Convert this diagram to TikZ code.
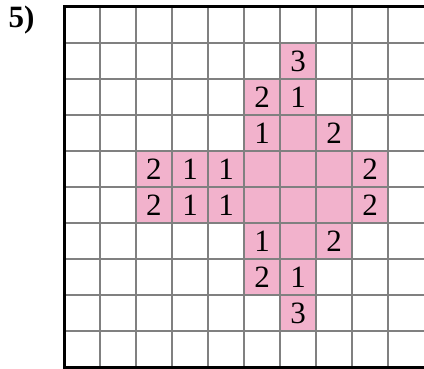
\documentclass[tikz,border=0pt]{standalone}
\usepackage{fontspec}
\setmainfont{Liberation Serif}
\definecolor{cellpink}{RGB}{242,178,204}
\definecolor{gridgray}{RGB}{128,128,128}

\begin{document}
\begin{tikzpicture}[
  font=\fontsize{31}{31}\selectfont,
  gridline/.style={draw=gridgray, line width=1.5pt},
  frame/.style={draw=black, line width=3pt, line join=miter},
  pinkcell/.style={fill=cellpink},
  num/.style={inner sep=0pt, anchor=center}
]
\useasboundingbox (0,0) rectangle (424pt,-369pt);
\node[anchor=base west, font=\fontsize{31}{31}\selectfont\bfseries] (label) at (5pt,-28pt) {5)};

\begin{scope}[shift={(64pt,-7pt)}, x=36pt, y=-36pt]
  % shaded cells
  \foreach \c/\r in {6/1, 5/2, 6/2, 5/3, 6/3, 7/3,
                     2/4, 3/4, 4/4, 5/4, 6/4, 7/4, 8/4,
                     2/5, 3/5, 4/5, 5/5, 6/5, 7/5, 8/5,
                     5/6, 6/6, 7/6, 5/7, 6/7, 6/8}
    \fill[pinkcell] (\c,\r) rectangle ++(1,1);
  % grid
  \foreach \i in {1,...,9} {
    \draw[gridline] (\i,0) -- (\i,10);
    \draw[gridline] (0,\i) -- (10,\i);
  }
  % frame
  \draw[frame] (10,0) -- (0,0) -- (0,10) -- (10,10);
  % numbers
  \foreach \c/\r/\v in {6/1/3, 5/2/2, 6/2/1, 5/3/1, 7/3/2,
                        2/4/2, 3/4/1, 4/4/1, 8/4/2,
                        2/5/2, 3/5/1, 4/5/1, 8/5/2,
                        5/6/1, 7/6/2, 5/7/2, 6/7/1, 6/8/3}
    \node[num] (n\c\r) at (\c+.5,\r+.5) {\v};
\end{scope}
\end{tikzpicture}
\end{document}
